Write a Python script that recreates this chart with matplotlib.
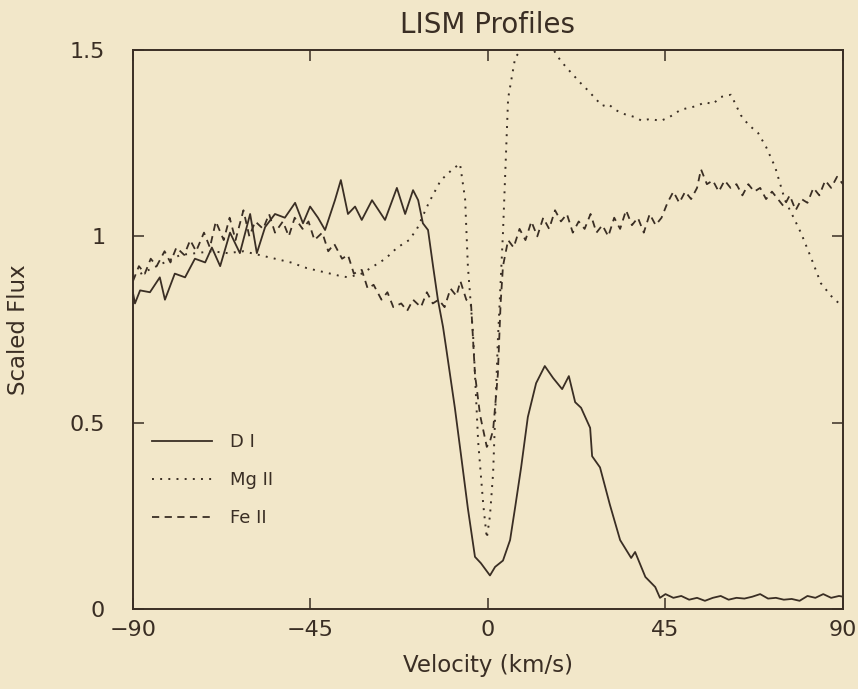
import matplotlib.pyplot as plt
from matplotlib.lines import Line2D

# LISM absorption profiles: velocity (km/s) vs scaled flux
v_di = [-90.0, -89.5, -88.2, -85.7, -83.2, -81.9, -79.4, -76.8, -74.3, -71.7,
        -70.0, -67.9, -65.4, -62.9, -60.3, -58.6, -56.5, -54.0, -51.5, -48.9,
        -46.9, -45.1, -43.1, -41.3, -38.8, -37.3, -35.5, -33.7, -32.0, -29.4,
        -26.1, -23.1, -21.0, -19.0, -17.7, -16.5, -15.2, -13.9, -12.7, -11.4,
        -10.6, -8.4, -6.8, -5.1, -3.3, -1.8, 0.5, 1.8, 3.8, 5.6,
        6.9, 8.4, 10.1, 12.2, 14.4, 16.5, 18.8, 20.5, 22.1, 23.6,
        25.9, 26.4, 28.4, 30.9, 33.5, 36.3, 37.3, 39.9, 42.4, 43.6,
        45, 47, 49, 51, 53, 55, 57, 59, 61, 63,
        65, 67, 69, 71, 73, 75, 77, 79, 81, 83,
        85, 87, 89, 90]
f_di = [0.848, 0.82, 0.855, 0.85, 0.89, 0.83, 0.90, 0.89, 0.94, 0.93,
        0.97, 0.92, 1.01, 0.955, 1.06, 0.955, 1.025, 1.06, 1.05, 1.09,
        1.035, 1.08, 1.05, 1.017, 1.097, 1.151, 1.06, 1.08, 1.044, 1.097,
        1.044, 1.13, 1.06, 1.124, 1.097, 1.035, 1.017, 0.918, 0.83, 0.757,
        0.70, 0.54, 0.41, 0.27, 0.14, 0.123, 0.09, 0.113, 0.13, 0.185,
        0.274, 0.38, 0.515, 0.606, 0.652, 0.62, 0.59, 0.625, 0.555, 0.54,
        0.486, 0.41, 0.38, 0.28, 0.185, 0.137, 0.153, 0.086, 0.059, 0.03,
        0.04, 0.03, 0.035, 0.025, 0.03, 0.022, 0.03, 0.035, 0.025, 0.03,
        0.028, 0.033, 0.04, 0.028, 0.03, 0.025, 0.027, 0.022, 0.035, 0.03,
        0.04, 0.03, 0.035, 0.033]

v_mg = [-90, -86, -82, -78, -74, -70, -66, -62, -58, -54,
        -50, -46, -42, -38, -35.5, -32, -29, -26, -23, -20,
        -18, -15, -12, -9, -7.1, -5.8, -5.1, -3.8, -2.5, -1.2,
        -0.3, 0.5, 1.3, 2.5, 3.8, 5.1, 6.9, 8.4, 10, 13,
        16, 18.5, 21, 23.6, 25.5, 27.2, 29, 30.5, 32.2, 34,
        35.5, 37.3, 39, 41, 43.8, 46, 48.9, 51, 53, 55,
        57, 59, 61.6, 64.1, 66, 68.5, 70.5, 72.8, 75.3, 77.5,
        79.4, 82, 84.4, 87, 90]
f_mg = [0.89, 0.91, 0.93, 0.95, 0.955, 0.96, 0.955, 0.96, 0.95, 0.94,
        0.93, 0.915, 0.905, 0.895, 0.89, 0.90, 0.92, 0.94, 0.97, 0.99,
        1.02, 1.09, 1.15, 1.18, 1.195, 1.10, 0.92, 0.74, 0.45, 0.28,
        0.19, 0.25, 0.365, 0.72, 1.01, 1.37, 1.48, 1.50, 1.52, 1.53,
        1.51, 1.47, 1.44, 1.41, 1.39, 1.37, 1.35, 1.355, 1.34, 1.33,
        1.325, 1.32, 1.31, 1.315, 1.31, 1.32, 1.34, 1.345, 1.35, 1.36,
        1.355, 1.374, 1.38, 1.325, 1.30, 1.277, 1.24, 1.186, 1.097, 1.05,
        1.008, 0.94, 0.874, 0.84, 0.81]

v_fe = [-90, -88.5, -87, -85.5, -84, -82, -80.5, -79, -77, -75.5,
        -74, -72, -70.5, -69, -67, -65.5, -64, -62, -60.5, -59,
        -57, -55.5, -54, -52, -50.5, -49, -47, -45.5, -44, -42,
        -40.5, -39, -37, -35.5, -34, -32, -30.5, -29, -27, -25.5,
        -24, -22, -20.5, -19, -17, -15.5, -14, -12.5, -11, -9.5,
        -8, -7, -5.5, -4.3, -3.3, -2, -0.8, -0.3, 0.5, 1.3,
        2.5, 3.2, 3.8, 5.1, 6.5, 8, 9.5, 11, 12.5, 14,
        15.5, 17, 18.5, 20, 21.5, 23, 24.5, 26, 27.5, 29,
        30.5, 32, 33.5, 35, 36.5, 38, 39.5, 41, 42.5, 44,
        45.5, 47, 48.5, 50, 51.5, 53, 54, 55.5, 57, 58.5,
        60, 61.5, 63, 64.5, 66, 67.5, 69, 70.5, 72, 73.5,
        75, 76.5, 78, 79.5, 81, 82.5, 84, 85.5, 87, 88.5, 90]
f_fe = [0.88, 0.92, 0.90, 0.94, 0.92, 0.96, 0.93, 0.97, 0.95, 0.99,
        0.96, 1.01, 0.97, 1.04, 0.99, 1.05, 0.99, 1.07, 1.00, 1.04,
        1.02, 1.06, 1.01, 1.04, 1.00, 1.05, 1.02, 1.04, 0.99, 1.01,
        0.96, 0.98, 0.94, 0.95, 0.90, 0.91, 0.86, 0.87, 0.83, 0.85,
        0.81, 0.82, 0.80, 0.83, 0.81, 0.85, 0.82, 0.83, 0.81, 0.86,
        0.84, 0.88, 0.83, 0.82, 0.63, 0.52, 0.46, 0.435, 0.45, 0.48,
        0.63, 0.82, 0.92, 0.99, 0.97, 1.02, 0.99, 1.04, 1.00, 1.05,
        1.02, 1.07, 1.04, 1.06, 1.01, 1.04, 1.02, 1.06, 1.01, 1.03,
        1.00, 1.05, 1.02, 1.07, 1.03, 1.05, 1.01, 1.06, 1.03, 1.05,
        1.09, 1.12, 1.09, 1.12, 1.10, 1.13, 1.18, 1.14, 1.15, 1.12,
        1.15, 1.13, 1.14, 1.11, 1.14, 1.12, 1.13, 1.10, 1.12, 1.10,
        1.08, 1.11, 1.07, 1.10, 1.09, 1.13, 1.11, 1.15, 1.13, 1.16, 1.14]

x_ticks = [-90, -45, 0, 45, 90]
x_ticklabels = ['\u221290', '\u221245', '0', '45', '90']
y_ticks = [0, 0.5, 1, 1.5]
y_ticklabels = ['0', '0.5', '1', '1.5']

bg = '#f2e7c9'
ink = '#3a2e24'

fig = plt.figure(figsize=(8.58, 6.89), dpi=100, facecolor=bg)
ax = fig.add_axes([0.155, 0.1161, 0.8275, 0.8113])
ax.set_facecolor(bg)

ax.plot(v_di, f_di, color=ink, lw=1.3, ls='-')
ax.plot(v_mg, f_mg, color=ink, lw=1.4, ls=(0, (1, 3.2)))
ax.plot(v_fe, f_fe, color=ink, lw=1.3, ls=(0, (4, 3)))

ax.set_xlim(-90, 90)
ax.set_ylim(0, 1.5)
ax.set_xticks(x_ticks)
ax.set_xticklabels(x_ticklabels)
ax.set_yticks(y_ticks)
ax.set_yticklabels(y_ticklabels)
ax.tick_params(direction='in', length=8, width=1.1, colors=ink,
               top=True, right=True, labelsize=16, labelcolor=ink)
ax.tick_params(axis='y', pad=20)
ax.tick_params(axis='x', pad=8)
for sp in ax.spines.values():
    sp.set_color(ink)
    sp.set_linewidth(1.4)

ax.set_title('LISM Profiles', fontsize=20, color=ink, pad=12)
ax.set_xlabel('Velocity (km/s)', fontsize=16.5, color=ink, labelpad=10)
ax.set_ylabel('Scaled Flux', fontsize=16.5, color=ink)
ax.yaxis.set_label_coords(-0.145, 0.5)

handles = [Line2D([], [], color=ink, lw=1.3, ls='-'),
           Line2D([], [], color=ink, lw=1.4, ls=(0, (1, 3.2))),
           Line2D([], [], color=ink, lw=1.3, ls=(0, (4, 3)))]
ax.legend(handles, ['D I', 'Mg II', 'Fe II'], loc='upper left',
          bbox_to_anchor=(0.027, 0.314), frameon=False, fontsize=13,
          handlelength=3.3, handletextpad=1.0, labelspacing=1.1,
          borderpad=0, borderaxespad=0, labelcolor=ink)

fig.savefig('out.png', dpi=100, facecolor=bg)
